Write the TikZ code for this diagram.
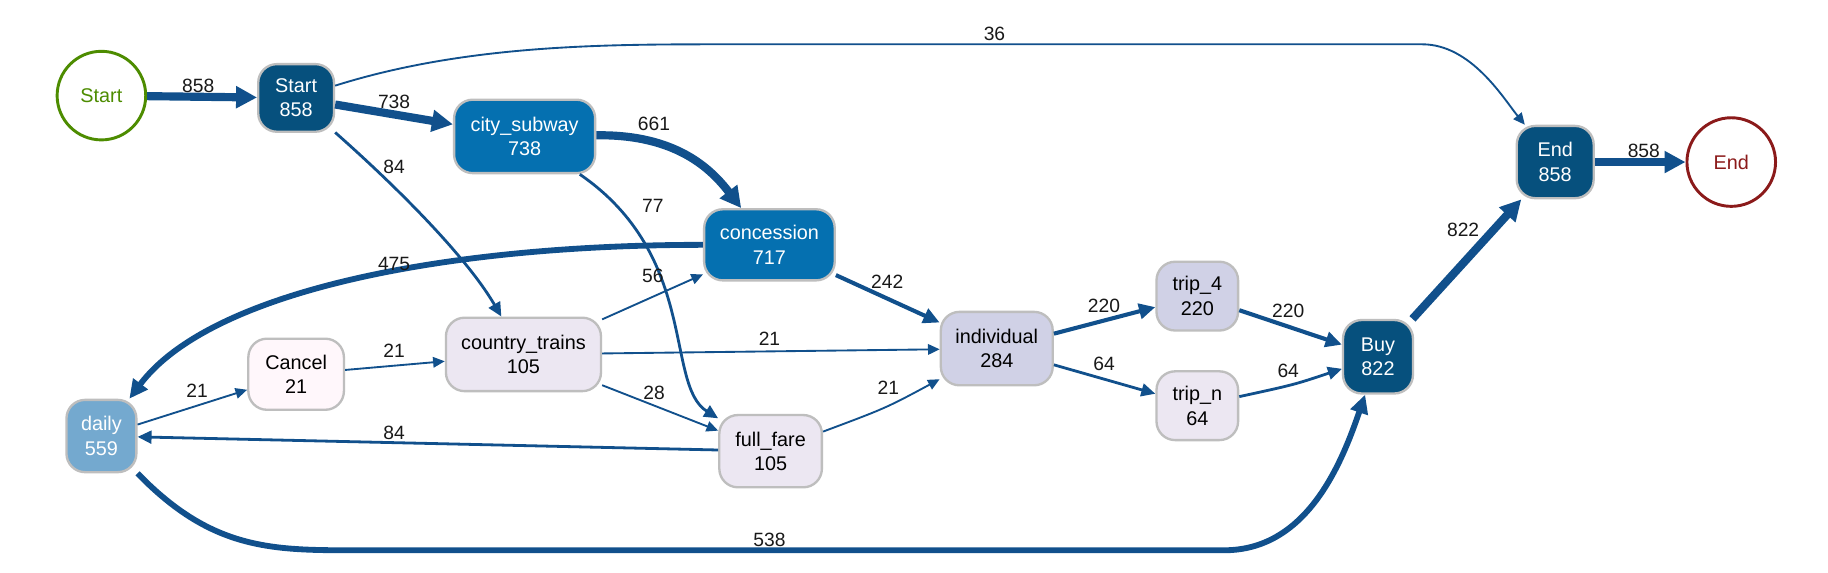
\documentclass[tikz,border=0pt]{standalone}
\usepackage{fontspec}
\setmainfont{Liberation Sans}
\usetikzlibrary{arrows.meta}
\definecolor{ec}{RGB}{17,80,140}
\definecolor{bord}{RGB}{190,190,190}
\definecolor{dark}{RGB}{6,80,125}
\definecolor{mid}{RGB}{5,112,176}
\definecolor{lightb}{RGB}{116,169,207}
\definecolor{lav}{RGB}{208,209,230}
\definecolor{pale}{RGB}{236,231,242}
\definecolor{pink}{RGB}{255,247,251}
\definecolor{sgreen}{RGB}{77,140,0}
\definecolor{ered}{RGB}{139,26,26}
\definecolor{lblc}{RGB}{25,25,25}
\newcommand\nfnt{\fontsize{17}{21}\selectfont}
\newcommand\lfnt{\fontsize{16.5}{19}\selectfont}
\begin{document}
\begin{tikzpicture}[x=1pt,y=-1pt,
  box/.style={draw=bord, line width=2pt, rounded corners=16pt, align=center, font=\nfnt, inner sep=2pt},
  sz/.style 2 args={minimum width=#1pt, minimum height=#2pt},
  circ/.style={circle, line width=2.5pt, minimum size=76pt, fill=white, font=\nfnt},
  lbl/.style={font=\lfnt, text=lblc, inner sep=1pt},
  e1/.style={draw=ec, line width=1.6pt, -{Triangle[length=10pt,width=9pt]}},
  e2/.style={draw=ec, line width=2.4pt, -{Triangle[length=12pt,width=11pt]}},
  e3/.style={draw=ec, line width=3.5pt, -{Triangle[length=14pt,width=13pt]}},
  e4/.style={draw=ec, line width=5pt, -{Triangle[length=16pt,width=15pt]}},
  e5/.style={draw=ec, line width=7pt, -{Triangle[length=18pt,width=18pt]}}]
\fill[white] (0,0) rectangle (1568,491);
\useasboundingbox (0,0) rectangle (1568,491);

% nodes
\node[circ, draw=sgreen, text=sgreen] (st) at (87,82) {Start};
\node[circ, draw=ered, text=ered] (en) at (1485,139) {End};
\node[box, sz={65}{58}, fill=dark, text=white] (sb) at (254,84) {Start\\858};
\node[box, sz={121}{63}, fill=mid, text=white] (cs) at (450,117) {city\_subway\\738};
\node[box, sz={112}{61}, fill=mid, text=white] (co) at (660,210) {concession\\717};
\node[box, sz={133}{63}, fill=pale] (ct) at (449,304) {country\_trains\\105};
\node[box, sz={82}{61}, fill=pink] (ca) at (254,321) {Cancel\\21};
\node[box, sz={60}{62}, fill=lightb, text=white] (da) at (87,374) {daily\\559};
\node[box, sz={88}{62}, fill=pale] (ff) at (661,387) {full\_fare\\105};
\node[box, sz={96}{63}, fill=lav] (in) at (855,299) {individual\\284};
\node[box, sz={70}{59}, fill=lav] (t4) at (1027,254) {trip\_4\\220};
\node[box, sz={70}{59}, fill=pale] (tn) at (1027,348) {trip\_n\\64};
\node[box, sz={60}{63}, fill=dark, text=white] (bu) at (1182,306) {Buy\\822};
\node[box, sz={66}{62}, fill=dark, text=white] (eb) at (1334,139) {End\\858};

% edges
\draw[e5] (st) -- (sb);
\draw[e5] (sb) -- (cs);
\draw[e1] (sb) .. controls (400,38) and (520,38) .. (620,38) -- (1220,38) .. controls (1262,38) and (1290,85) .. (eb);
\draw[e2] (sb) .. controls (340,160) and (400,220) .. (ct);
\draw[e5] (cs) .. controls (580,115) and (610,145) .. (co);
\draw[e2] (cs) .. controls (600,220) and (570,330) .. (ff);
\draw[e4] (co) .. controls (380,210) and (180,250) .. (da);
\draw[e3] (co) -- (in);
\draw[e1] (ct) -- (co);
\draw[e1] (ct) -- (in);
\draw[e1] (ct) -- (ff);
\draw[e1] (ca) -- (ct);
\draw[e1] (da) -- (ca);
\draw[e2] (ff) -- (da);
\draw[e1] (ff) .. controls (760,350) .. (in);
\draw[e4] (da) .. controls (180,470) and (230,472) .. (300,472) -- (1050,472) .. controls (1120,472) and (1150,400) .. (bu);
\draw[e3] (in) -- (t4);
\draw[e2] (in) -- (tn);
\draw[e3] (t4) -- (bu);
\draw[e2] (tn) .. controls (1110,330) .. (bu);
\draw[e5] (bu) -- (eb);
\draw[e5] (eb) -- (en);

% labels
\node[lbl] (l1) at (170,74) {858};
\node[lbl] (l2) at (338,87) {738};
\node[lbl] (l3) at (853,29) {36};
\node[lbl] (l4) at (338,143) {84};
\node[lbl] (l5) at (561,106) {661};
\node[lbl] (l6) at (560,177) {77};
\node[lbl] (l7) at (338,226) {475};
\node[lbl] (l8) at (761,242) {242};
\node[lbl] (l9) at (560,237) {56};
\node[lbl] (l10) at (660,291) {21};
\node[lbl] (l11) at (561,337) {28};
\node[lbl] (l12) at (338,301) {21};
\node[lbl] (l13) at (169,335) {21};
\node[lbl] (l14) at (338,371) {84};
\node[lbl] (l15) at (762,333) {21};
\node[lbl] (l16) at (660,463) {538};
\node[lbl] (l17) at (947,262) {220};
\node[lbl] (l18) at (947,312) {64};
\node[lbl] (l19) at (1105,267) {220};
\node[lbl] (l20) at (1105,318) {64};
\node[lbl] (l21) at (1255,197) {822};
\node[lbl] (l22) at (1410,129) {858};
\end{tikzpicture}
\end{document}
